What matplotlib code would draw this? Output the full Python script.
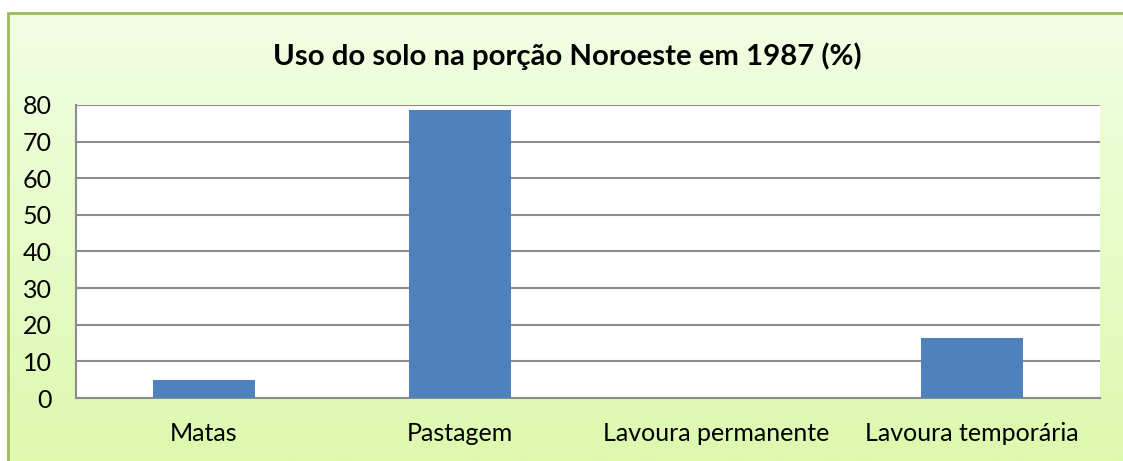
import numpy as np
import matplotlib
matplotlib.use('Agg')
import matplotlib.pyplot as plt
from matplotlib.colors import LinearSegmentedColormap
from matplotlib.patches import Rectangle

# dados
categorias = ['Matas', 'Pastagem', 'Lavoura permanente', 'Lavoura temporária']
valores = [5.0, 78.5, 0.0, 16.3]
titulo = 'Uso do solo na porção Noroeste em 1987 (%)'
yticks = [0, 10, 20, 30, 40, 50, 60, 70, 80]

W, H = 1123, 461
fig = plt.figure(figsize=(W / 100, H / 100), dpi=100)
fig.patch.set_facecolor('white')

# fundo com degradê verde
bg = fig.add_axes([7 / W, 0, 1 - 7 / W, 1 - 12 / H], zorder=0)
grad = np.linspace(0, 1, 256).reshape(-1, 1)
cmap = LinearSegmentedColormap.from_list('g', ['#F2FEE4', '#DCF9AE'])
bg.imshow(grad, aspect='auto', cmap=cmap, extent=[0, 1, 0, 1], origin='upper')
bg.set_xlim(0, 1)
bg.set_ylim(0, 1)
bg.axis('off')
bg.add_patch(Rectangle((0.001, -0.05), 1.2, 1.05 - 0.002, fill=False,
                       edgecolor='#9BBB59', linewidth=2, clip_on=False))

ax = fig.add_axes([76 / W, (H - 398) / H, (1100 - 76) / W, (398 - 105) / H], zorder=1)
ax.set_facecolor('white')
x = np.arange(len(categorias))
ax.bar(x, valores, width=0.4, color='#4F81BD', zorder=3)
ax.set_xlim(-0.5, len(categorias) - 0.5)
ax.set_ylim(0, 80)
ax.set_yticks(yticks)
ax.set_xticks(x)
ax.set_xticklabels(categorias)
ax.yaxis.grid(True, color='#8C8C8C', linewidth=1.5, zorder=0)
ax.set_axisbelow(True)
for s in ['top', 'right']:
    ax.spines[s].set_visible(False)
for s in ['left', 'bottom']:
    ax.spines[s].set_color('#8C8C8C')
    ax.spines[s].set_linewidth(1.5)
ax.tick_params(axis='both', length=0, labelsize=18, colors='black')
ax.tick_params(axis='y', pad=17.5)
ax.tick_params(axis='x', pad=17)
for lab in ax.get_xticklabels() + ax.get_yticklabels():
    lab.set_family('Lato')

fig.text(567 / W, 1 - 56 / H, titulo, ha='center', va='center',
         fontsize=21.2, fontweight='bold', family='Lato')

fig.savefig('out.png', dpi=100)
